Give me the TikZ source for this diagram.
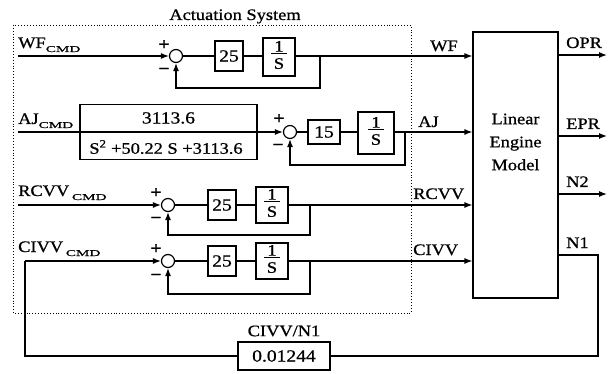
\documentclass[tikz,border=0pt]{standalone}
\usepackage{fontspec}
\usepackage{graphicx}
\setmainfont{Liberation Serif}[FakeStretch=1.15,FakeBold=0.8]
\usetikzlibrary{arrows.meta,calc}
\newcommand{\cmdsub}{\raisebox{-4pt}{\fontsize{11}{11}\selectfont\scalebox{1.2}[0.8]{CMD}}}
\newcommand{\frS}{\begin{tabular}{@{\,}c@{\,}}1\\[-3pt]\hline\rule{0pt}{15pt}S\end{tabular}}
\begin{document}
\begin{tikzpicture}[x=1pt,y=-1pt,
  lw/.style={line width=1.2pt},
  arr/.style={lw,-{Latex[length=8pt,width=6pt]}},
  ln/.style={lw},
  sumj/.style={circle,draw,lw,minimum size=13pt,inner sep=0pt},
  gainbox/.style={draw,lw,minimum width=28pt,minimum height=30pt,inner sep=0pt,font=\fontsize{17}{17}\selectfont},
  intbox/.style={draw,lw,minimum width=32pt,minimum height=36pt,inner sep=0pt,font=\fontsize{16}{16}\selectfont},
  lbl/.style={font=\fontsize{16}{16}\selectfont,inner sep=0pt},
  sgn/.style={font=\fontsize{17}{17}\selectfont\bfseries,inner sep=0pt},
]
\useasboundingbox (0,0) rectangle (610,374);
% actuation system frame
\draw[dotted,line width=0.9pt] (13,25) rectangle (411,313);
\node[lbl,anchor=base] (title) at (235,20) {Actuation System};
% engine
\node[draw,lw,minimum width=85pt,minimum height=266pt,inner sep=0pt] (eng) at (515.5,165) {};
\node[lbl,align=center,font=\fontsize{16}{23}\selectfont] (engt) at (515.5,142) {Linear\\Engine\\Model};

% ---- row 1 (WF)
\node[sumj] (s1) at (176,56) {};
\node[gainbox] (k1) at (229,56) {25};
\node[intbox,minimum height=38pt] (i1) at (279,57) {\frS};
\coordinate (in1) at (18,56);
\coordinate (f1) at (320,56);
\draw[arr] (in1) -- (s1.west);
\draw[ln] (s1.east) -- (k1.west);
\draw[ln] (k1.east) -- (k1.east -| i1.west);
\draw[arr] (i1.east |- s1) -- (i1.east |- s1 -| eng.west);
\draw[arr] (f1) -- ++(0,32) -| (s1.south);
\node[lbl,anchor=base west] (l1) at (18,48) {WF\cmdsub};
\node[lbl,anchor=base west] (o1) at (430,51) {WF};
\node[sgn] (p1) at (164,45) {+};
\node[sgn] (m1) at (164,71) {\textminus};

% ---- row 2 (AJ)
\node[draw,lw,minimum width=177pt,minimum height=55pt,inner sep=0pt] (tf) at (168.5,132) {};
\node[lbl,font=\fontsize{17}{17}\selectfont] (tfn) at (168.5,118) {3113.6};
\node[lbl] (tfd) at (166,147) {S\textsuperscript{2} +50.22 S +3113.6};
\node[sumj] (s2) at (290,132) {};
\node[gainbox,minimum width=32pt,minimum height=24pt] (k2) at (324,132) {15};
\node[intbox,minimum width=36pt,minimum height=42pt] (i2) at (376,133) {\frS};
\coordinate (in2) at (18,132);
\coordinate (f2) at (405,132);
\draw[ln] (in2) -- (tf.west);
\draw[ln] (tf.west) -- (tf.east);
\draw[arr] (tf.east) -- (s2.west);
\draw[ln] (s2.east) -- (k2.west);
\draw[ln] (k2.east) -- (k2.east -| i2.west);
\draw[arr] (i2.east |- s2) -- (i2.east |- s2 -| eng.west);
\draw[arr] (f2) -- ++(0,33) -| (s2.south);
\node[lbl,anchor=base west] (l2) at (18,124) {AJ\cmdsub};
\node[lbl,anchor=base west] (o2) at (418,127) {AJ};
\node[sgn] (p2) at (279,119) {+};
\node[sgn] (m2) at (278,147) {\textminus};

% ---- row 3 (RCVV)
\node[sumj] (s3) at (168,205) {};
\node[gainbox] (k3) at (222,205) {25};
\node[intbox] (i3) at (272,205) {\frS};
\coordinate (in3) at (18,205);
\coordinate (f3) at (310,205);
\draw[arr] (in3) -- (s3.west);
\draw[ln] (s3.east) -- (k3.west);
\draw[ln] (k3.east) -- (i3.west);
\draw[arr] (i3.east) -- (i3.east -| eng.west);
\draw[arr] (f3) -- ++(0,30) -| (s3.south);
\node[lbl,anchor=base west] (l3) at (18,196) {RCVV\,\cmdsub};
\node[lbl,anchor=base west] (o3) at (413,199) {RCVV};
\node[sgn] (p3) at (156,193) {+};
\node[sgn] (m3) at (156,220) {\textminus};

% ---- row 4 (CIVV)
\node[sumj] (s4) at (168,261) {};
\node[gainbox] (k4) at (222,261) {25};
\node[intbox] (i4) at (272,261) {\frS};
\coordinate (f4) at (310,261);
\draw[ln] (s4.east) -- (k4.west);
\draw[ln] (k4.east) -- (i4.west);
\draw[arr] (i4.east) -- (i4.east -| eng.west);
\draw[arr] (f4) -- ++(0,33) -| (s4.south);
\node[lbl,anchor=base west] (l4) at (18,252) {CIVV\,\cmdsub};
\node[lbl,anchor=base west] (o4) at (413,255) {CIVV};
\node[sgn] (p4) at (156,249) {+};
\node[sgn] (m4) at (156,277) {\textminus};

% ---- engine outputs
\coordinate (oOPR) at (607,55);
\coordinate (oEPR) at (607,136);
\coordinate (oN2) at (607,194);
\coordinate (c1) at (598,255);
\draw[arr] (eng.east |- oOPR) -- (oOPR);
\draw[arr] (eng.east |- oEPR) -- (oEPR);
\draw[arr] (eng.east |- oN2) -- (oN2);
\node[lbl,anchor=base west] (lo1) at (566,48) {OPR};
\node[lbl,anchor=base west] (lo2) at (566,129) {EPR};
\node[lbl,anchor=base west] (lo3) at (566,187) {N2};
\node[lbl,anchor=base west] (lo4) at (566,248) {N1};

% ---- N1 feedback loop
\node[draw,lw,minimum width=92pt,minimum height=28pt,inner sep=0pt,font=\fontsize{17}{17}\selectfont] (g) at (284,356) {0.01244};
\node[lbl] (gl) at (284,331) {CIVV/N1};
\coordinate (c2) at (25,261);
\draw[ln] (eng.east |- c1) -- (c1) |- (g.east);
\draw[ln] (g.west) -| (c2);
\draw[arr] (c2) -- (s4.west);
\end{tikzpicture}
\end{document}
